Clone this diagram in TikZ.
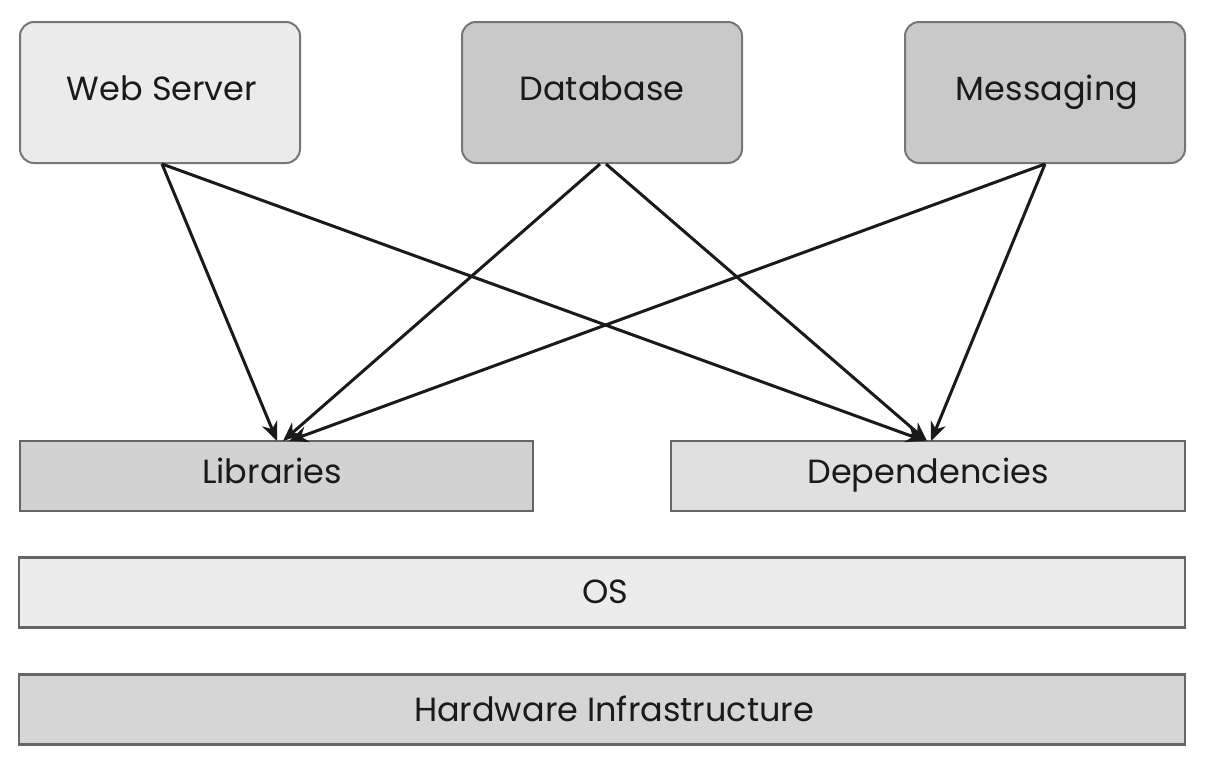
\documentclass[tikz,border=0pt]{standalone}
\usepackage{fontspec}
\setmainfont{Poppins}
\usetikzlibrary{arrows.meta}
\definecolor{bdr}{HTML}{767676}
\definecolor{bdrdark}{HTML}{666666}
\definecolor{flight}{HTML}{EBEBEB}
\definecolor{fdark}{HTML}{C9C9C9}
\definecolor{flib}{HTML}{D2D2D2}
\definecolor{fdep}{HTML}{E0E0E0}
\definecolor{fos}{HTML}{ECECEC}
\definecolor{fhw}{HTML}{D6D6D6}
\definecolor{ink}{HTML}{1A1A1A}
\tikzset{
  x=1pt, y=-1pt,
  lbl/.style={font=\fontsize{33.5}{40}\selectfont, text=ink, text height=23.5pt, text depth=0pt, inner sep=0pt},
  topbox/.style={draw=bdr, line width=2pt, rounded corners=14pt, minimum width=280pt, minimum height=141pt},
  layerbox/.style={draw=bdrdark, line width=2.4pt, minimum height=70pt},
  conn/.style={draw=ink, line width=3pt, -{Stealth[length=19pt, width=16pt]}},
}
\begin{document}
\begin{tikzpicture}
\useasboundingbox (0,0) rectangle (1206,766);
\node[topbox, fill=flight] (web) at (160,92.5) {};
\node[topbox, fill=fdark] (db) at (602,92.5) {};
\node[topbox, fill=fdark] (msg) at (1045,92.5) {};
\node[layerbox, fill=flib, minimum width=513pt] (lib) at (276.5,476) {};
\node[layerbox, fill=fdep, minimum width=514pt] (dep) at (928,476) {};
\node[layerbox, fill=fos, minimum width=1166pt] (os) at (602,592.5) {};
\node[layerbox, fill=fhw, minimum width=1166pt] (hw) at (602,709.5) {};
\node[lbl] (tweb) at (162,89) {Web Server};
\node[lbl] (tdb) at (602,89) {Database};
\node[lbl] (tmsg) at (1047,89) {Messaging};
\node[lbl] (tlib) at (272,472) {Libraries};
\node[lbl] (tdep) at (928,472) {Dependencies};
\node[lbl] (tos) at (605,592) {OS};
\node[lbl] (thw) at (614,710) {Hardware Infrastructure};
\coordinate (libin) at (283,441);
\coordinate (depin) at (928,441);
\draw[conn] (web.south) ++(2,0) -- ([xshift=-6pt]libin);
\draw[conn] (web.south) ++(2,0) -- ([xshift=-3pt]depin);
\draw[conn] (db.south) ++(-2,0) -- ([xshift=0pt]libin);
\draw[conn] (db.south) ++(4,0) -- ([xshift=-1pt]depin);
\draw[conn] (msg.south) -- ([xshift=6pt]libin);
\draw[conn] (msg.south) -- ([xshift=3pt]depin);
\end{tikzpicture}
\end{document}
